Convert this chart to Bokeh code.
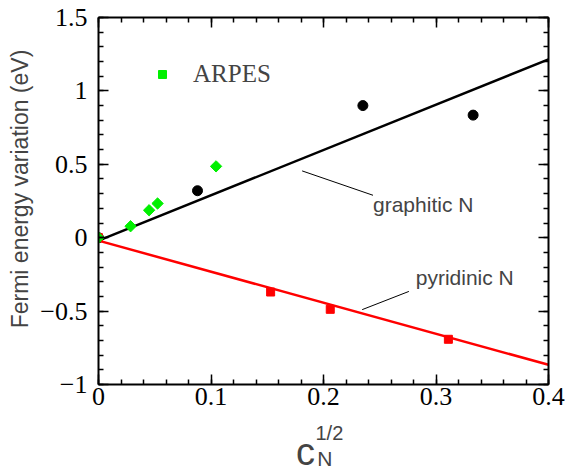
import numpy as np
from bokeh.plotting import figure
from bokeh.layouts import row, column
from bokeh.models import (LinearAxis, FixedTicker, Label, Legend, LegendItem,
                          Range1d, Arrow)
from bokeh.embed import file_html
from bokeh.resources import INLINE

# ---- data ----
graphitic_x = [0.0, 0.088, 0.235, 0.333]
graphitic_y = [0.0, 0.32, 0.90, 0.835]
pyridinic_x = [0.0, 0.153, 0.206, 0.311]
pyridinic_y = [0.0, -0.37, -0.488, -0.692]
arpes_x = [0.0, 0.0285, 0.045, 0.0525, 0.1045]
arpes_y = [0.0, 0.078, 0.187, 0.233, 0.486]
fit_x = [0.0, 0.4]
graphitic_fit = [-0.02, 1.215]
pyridinic_fit = [-0.02, -0.866]
x_ticks = [0, 0.1, 0.2, 0.3, 0.4]
x_tick_labels = ["0", "0.1", "0.2", "0.3", "0.4"]
y_ticks = [-1, -0.5, 0, 0.5, 1, 1.5]
y_tick_labels = ["\u22121", "\u22120.5", "0", "0.5", "1", "1.5"]
x_minor = [round(0.02 * i, 3) for i in range(21)]
y_minor = [round(-1 + 0.1 * i, 3) for i in range(26)]

GREEN = "#00f000"
SERIF = "Liberation Serif"
SANS = "Liberation Sans"

LEFT_W = 34
MAIN_W = 565 - LEFT_W
MAIN_H = 418

# ---- main plot ----
p = figure(width=MAIN_W, height=MAIN_H, x_range=Range1d(0, 0.4), y_range=Range1d(-1, 1.5),
           output_backend="svg", toolbar_location=None, title=None,
           min_border_left=98 - LEFT_W, min_border_right=17, min_border_top=17,
           min_border_bottom=34)
p.xgrid.visible = False
p.ygrid.visible = False
p.outline_line_color = None


def style_axis(ax, ticks, minor, labels, show_labels, standoff):
    ax.ticker = FixedTicker(ticks=ticks, minor_ticks=minor)
    ax.major_tick_in = 10
    ax.major_tick_out = 0
    ax.minor_tick_in = 5
    ax.minor_tick_out = 0
    ax.axis_line_width = 2
    ax.axis_line_color = "black"
    ax.major_tick_line_width = 1.5
    ax.minor_tick_line_width = 1.5
    ax.major_tick_line_color = "black"
    ax.minor_tick_line_color = "black"
    if show_labels:
        ax.major_label_overrides = {t: l for t, l in zip(ticks, labels)}
        ax.major_label_text_font = SERIF
        ax.major_label_text_font_size = "26px"
        ax.major_label_text_color = "black"
        ax.major_label_standoff = standoff
    else:
        ax.major_label_text_color = None
        ax.major_label_standoff = 0


style_axis(p.xaxis[0], x_ticks, x_minor, x_tick_labels, True, 3)
style_axis(p.yaxis[0], y_ticks, y_minor, y_tick_labels, True, 11)
top = LinearAxis()
right = LinearAxis()
style_axis(top, x_ticks, x_minor, x_tick_labels, False, 0)
style_axis(right, y_ticks, y_minor, y_tick_labels, False, 0)
p.add_layout(top, "above")
p.add_layout(right, "right")

# fit lines
p.line(fit_x, graphitic_fit, line_color="black", line_width=2.5)
p.line(fit_x, pyridinic_fit, line_color="#ff0000", line_width=2.5)

# data points
p.scatter(graphitic_x, graphitic_y, marker="circle", size=10, color="black")
p.scatter(pyridinic_x, pyridinic_y, marker="square", size=8, color="#ff0000")
arpes_r = p.scatter(arpes_x, arpes_y, marker="square", size=8, angle=np.pi / 4,
                    color=GREEN)

legend = Legend(items=[LegendItem(label="ARPES", renderers=[arpes_r])],
                location=(54, 296), border_line_color=None, background_fill_alpha=0,
                padding=0, margin=0, glyph_width=20, glyph_height=20, label_height=20,
                label_standoff=21, spacing=0,
                label_text_font=SERIF, label_text_font_size="25px")
p.add_layout(legend)

# annotations (label anchors compensate for Bokeh's baseline offset)
p.add_layout(Label(x=0.244, y=0.227, text="graphitic N", text_font=SANS,
                   text_font_size="21px", text_baseline="alphabetic"))
p.add_layout(Label(x=0.282, y=-0.272, text="pyridinic N", text_font=SANS,
                   text_font_size="21px", text_baseline="alphabetic"))
p.add_layout(Arrow(end=None, x_start=0.181, y_start=0.455, x_end=0.244, y_end=0.289,
                   line_color="black", line_width=1))
p.add_layout(Arrow(end=None, x_start=0.2344, y_start=-0.49, x_end=0.2759, y_end=-0.366,
                   line_color="black", line_width=1))


def text_panel(w, h, x0, y0):
    f = figure(width=w, height=h, x_range=Range1d(x0, x0 + w), y_range=Range1d(y0 + h, y0),
               output_backend="svg", toolbar_location=None, title=None,
               x_axis_location=None, y_axis_location=None,
               min_border_left=0, min_border_right=0, min_border_top=0, min_border_bottom=0)
    f.xgrid.visible = False
    f.ygrid.visible = False
    f.outline_line_color = None
    return f


# y axis title panel (page-pixel coordinates)
left = text_panel(LEFT_W, 471, 0, 0)
left.add_layout(Label(x=19.5, y=188.5, text="Fermi energy variation (eV)", angle=np.pi / 2,
                      text_font=SANS, text_font_size="23px", text_align="center",
                      text_baseline="alphabetic"))

# x axis title panel (page-pixel coordinates, shifted to offset the panel placement)
bottom = text_panel(MAIN_W, 471 - MAIN_H, LEFT_W, MAIN_H)
bottom.add_layout(Label(x=267, y=451, text="c", text_font=SANS, text_font_size="38px",
                        text_baseline="alphabetic"))
bottom.add_layout(Label(x=292, y=458, text="N", text_font=SANS, text_font_size="21px",
                        text_baseline="alphabetic"))
bottom.add_layout(Label(x=290, y=432, text="1/2", text_font=SANS, text_font_size="20px",
                        text_baseline="alphabetic"))

layout = row(left, column(p, bottom, spacing=0), spacing=0)
open("out.html", "w").write(file_html(layout, INLINE))
